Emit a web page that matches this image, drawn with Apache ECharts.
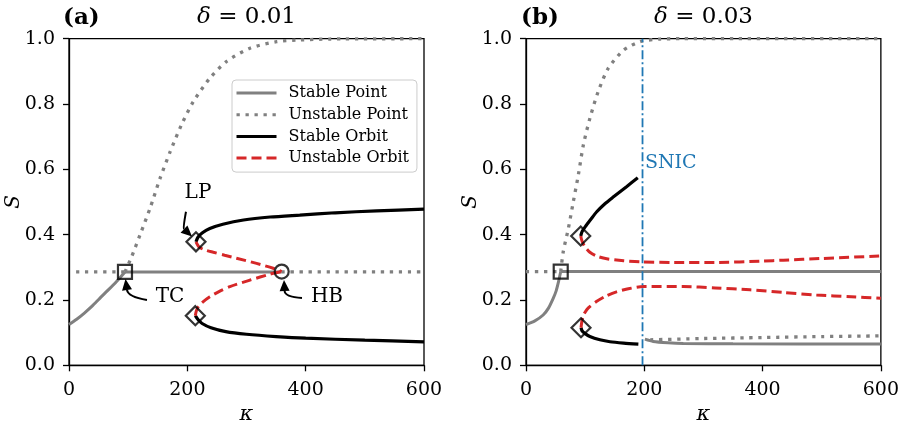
<!DOCTYPE html>
<html>
<head>
<meta charset="utf-8">
<script src="https://cdn.jsdelivr.net/npm/echarts@6/dist/echarts.min.js"></script>
<style>
html, body { margin: 0; padding: 0; background: #fff; }
#main { width: 902px; height: 430px; }
</style>
</head>
<body>
<div id="main"></div>
<script>
// ---- data, panel (a): delta = 0.01 ----
var aStablePtLow   = [[0,0.125],[13,0.141],[26,0.16],[39,0.181],[52,0.205],[66,0.23],[80,0.256],[94.6,0.286]];
var aStablePtFlat  = [[94.6,0.286],[359.5,0.286]];
var aUnstPtFlatL   = [[12,0.286],[94.6,0.286]];
var aUnstPtFlatR   = [[359.5,0.286],[600,0.286]];
var aUnstPtCurve   = [[94.6,0.286],[106,0.333],[120,0.399],[137,0.481],[154,0.573],[171,0.654],[190,0.736],[210,0.807],[238,0.879],[266,0.93],[306,0.971],[351,0.991],[390,0.996],[440,0.999],[600,1.0]];
var aStOrbUp       = [[214.6,0.378],[218,0.392],[225,0.405],[238,0.419],[260,0.432],[295,0.445],[340,0.454],[390,0.46],[450,0.467],[520,0.473],[600,0.478]];
var aStOrbLow      = [[213.5,0.152],[218,0.14],[225,0.128],[240,0.115],[265,0.103],[300,0.095],[350,0.088],[400,0.083],[500,0.077],[600,0.072]];
var aUnOrbUp       = [[214.6,0.378],[220,0.362],[230,0.353],[244,0.346],[263,0.337],[283,0.328],[317,0.312],[345,0.297],[359.5,0.287]];
var aUnOrbLow      = [[213.5,0.152],[215,0.165],[218,0.178],[225,0.192],[238,0.21],[255,0.227],[272,0.241],[306,0.261],[340,0.279],[359.5,0.287]];
var aLP = [[214.6,0.378],[213.5,0.152]];
var aTC = [[94.6,0.286]];
var aHB = [[359.5,0.287]];

// ---- data, panel (b): delta = 0.03 ----
var bStablePtLow   = [[0,0.125],[15,0.136],[29,0.154],[38,0.175],[46,0.205],[51,0.228],[55,0.256],[58.7,0.287]];
var bStablePtFlat  = [[58.7,0.287],[600,0.287]];
var bUnstPtFlat    = [[0,0.287],[58.7,0.287]];
var bUnstPtCurve   = [[58.7,0.287],[63,0.348],[71.6,0.419],[80,0.501],[88.5,0.583],[97,0.675],[108,0.756],[122,0.838],[139,0.909],[165,0.965],[193,0.991],[227,0.999],[260,1.0],[600,1.0]];
var bStablePtSnic  = [[201,0.08],[215,0.073],[240,0.069],[266,0.067],[350,0.066],[600,0.065]];
var bUnstPtSnic    = [[210,0.078],[300,0.082],[400,0.085],[500,0.088],[600,0.09]];
var bStOrbUp       = [[92.5,0.396],[95,0.41],[100,0.424],[110,0.448],[119.6,0.47],[133,0.494],[148,0.516],[170,0.547],[189,0.574]];
var bStOrbLow      = [[93,0.115],[95,0.105],[100,0.097],[108,0.088],[125,0.078],[142,0.072],[165,0.068],[190,0.065]];
var bUnOrbUp       = [[92.5,0.396],[95,0.379],[100,0.362],[108,0.346],[120,0.334],[136.5,0.326],[165,0.32],[193,0.317],[250,0.315],[322,0.315],[400,0.319],[435,0.322],[500,0.327],[600,0.335]];
var bUnOrbLow      = [[93,0.115],[95,0.14],[97,0.154],[105,0.175],[119,0.195],[135,0.212],[153,0.225],[175,0.235],[198,0.241],[266,0.241],[320,0.237],[379,0.231],[435,0.223],[491,0.215],[550,0.21],[600,0.205]];
var bLP = [[92.5,0.396],[93,0.115]];
var bTC = [[58.7,0.287]];
var snicK = 197;

var legendNames = ['Stable Point', 'Unstable Point', 'Stable Orbit', 'Unstable Orbit'];

var FONT = 'DejaVu Serif';
var GRAY = '#808080', RED = '#d62728', BLUE = '#1f77b4';

var styles = {
    'Stable Point':   { color: GRAY, width: 3 },
    'Unstable Point': { color: GRAY, width: 3.3, type: [3.3, 5.7], cap: 'butt' },
    'Stable Orbit':   { color: '#000', width: 3.2 },
    'Unstable Orbit': { color: RED, width: 3, type: [10, 5], cap: 'butt' }
};

function curve(name, idx, data, z) {
    var s = styles[name];
    return {
        type: 'line', name: name, xAxisIndex: idx, yAxisIndex: idx,
        data: data, symbol: 'none', showSymbol: false, smooth: 0.25,
        lineStyle: { color: s.color, width: s.width, type: s.type || 'solid', cap: s.cap || 'butt' },
        itemStyle: { color: s.color },
        z: z || 2, silent: true
    };
}

function marks(idx, data, symbol, size) {
    return {
        type: 'scatter', name: 'mark', xAxisIndex: idx, yAxisIndex: idx,
        data: data, symbol: symbol, symbolSize: size, z: 10, silent: true,
        itemStyle: { color: 'rgba(0,0,0,0)', borderColor: '#000', borderWidth: 2.2 }
    };
}

function xAx(idx) {
    return {
        type: 'value', gridIndex: idx, min: 0, max: 600, interval: 200,
        axisLine: { show: true, lineStyle: { color: '#000', width: 1.3 } },
        axisTick: { show: true, length: 6, lineStyle: { color: '#000', width: 1.3 } },
        axisLabel: { color: '#000', fontFamily: FONT, fontSize: 19, margin: 15 },
        splitLine: { show: false }
    };
}

function yAx(idx) {
    return {
        type: 'value', gridIndex: idx, min: 0, max: 1, interval: 0.2,
        axisLine: { show: true, lineStyle: { color: '#000', width: 1.3 } },
        axisTick: { show: true, length: 6, lineStyle: { color: '#000', width: 1.3 } },
        axisLabel: { color: '#000', fontFamily: FONT, fontSize: 19, margin: 14,
            formatter: function (v) { return v.toFixed(1); } },
        splitLine: { show: false }
    };
}

var chart = echarts.init(document.getElementById('main'));

var option = {
    animation: false,
    backgroundColor: '#fff',
    grid: [
        { left: 69, top: 38.7, width: 355, height: 326.6, show: true, borderColor: '#000', borderWidth: 1.3 },
        { left: 526, top: 38.7, width: 355, height: 326.6, show: true, borderColor: '#000', borderWidth: 1.3 }
    ],
    xAxis: [xAx(0), xAx(1)],
    yAxis: [yAx(0), yAx(1)],
    legend: {
        data: legendNames,
        orient: 'vertical',
        left: 232, top: 80,
        itemWidth: 40, itemHeight: 14, itemGap: 5.7,
        padding: [5, 8, 6, 3],
        borderColor: '#cccccc', borderWidth: 1, borderRadius: 4,
        backgroundColor: 'rgba(255,255,255,0.85)',
        selectedMode: false,
        itemStyle: { opacity: 0 },
        lineStyle: { width: 3 },
        textStyle: { fontFamily: FONT, fontSize: 16, color: '#000', lineHeight: 14, padding: [0, 0, 0, 7] }
    },
    series: [
        // panel (a)
        curve('Stable Point', 0, aStablePtLow),
        curve('Unstable Point', 0, aUnstPtFlatL),
        curve('Unstable Point', 0, aUnstPtCurve),
        curve('Unstable Point', 0, aUnstPtFlatR),
        curve('Stable Point', 0, aStablePtFlat),
        curve('Stable Orbit', 0, aStOrbUp, 3),
        curve('Stable Orbit', 0, aStOrbLow, 3),
        curve('Unstable Orbit', 0, aUnOrbUp, 4),
        curve('Unstable Orbit', 0, aUnOrbLow, 4),
        marks(0, aLP, 'diamond', 19),
        marks(0, aTC, 'rect', 14),
        marks(0, aHB, 'circle', 14),
        // panel (b)
        curve('Stable Point', 1, bStablePtLow),
        curve('Unstable Point', 1, bUnstPtFlat),
        curve('Unstable Point', 1, bUnstPtCurve),
        curve('Stable Point', 1, bStablePtFlat),
        curve('Stable Point', 1, bStablePtSnic),
        curve('Unstable Point', 1, bUnstPtSnic),
        curve('Stable Orbit', 1, bStOrbUp, 3),
        curve('Stable Orbit', 1, bStOrbLow, 3),
        curve('Unstable Orbit', 1, bUnOrbUp, 4),
        curve('Unstable Orbit', 1, bUnOrbLow, 4),
        {
            type: 'line', name: 'SNIC', xAxisIndex: 1, yAxisIndex: 1,
            data: [[snicK, 0], [snicK, 1]], symbol: 'none', z: 5, silent: true,
            lineStyle: { color: BLUE, width: 1.8, type: [9, 3, 2, 3], cap: 'butt' }
        },
        marks(1, bLP, 'diamond', 19),
        marks(1, bTC, 'rect', 14)
    ]
};
chart.setOption(option);

// annotations (data coordinates of panel a)
var notes = [
    { grid: 0, text: 'LP', at: [218, 0.528], from: [197.7, 0.470], ctrl: [192.7, 0.420], to: [207.9, 0.394] },
    { grid: 0, text: 'TC', at: [170.7, 0.209], from: [131.8, 0.200], ctrl: [99.7, 0.209], to: [95.5, 0.264] },
    { grid: 0, text: 'HB', at: [436, 0.209], from: [393.8, 0.206], ctrl: [365, 0.209], to: [363.4, 0.261] }
];

var g = [];
notes.forEach(function (n) {
    var p = chart.convertToPixel({ gridIndex: n.grid }, n.at);
    var a = chart.convertToPixel({ gridIndex: n.grid }, n.from);
    var c = chart.convertToPixel({ gridIndex: n.grid }, n.ctrl);
    var b = chart.convertToPixel({ gridIndex: n.grid }, n.to);
    g.push({ type: 'text', x: p[0], y: p[1], z: 20, silent: true,
        style: { text: n.text, font: '20px "' + FONT + '"', fill: '#000', align: 'center', verticalAlign: 'middle' } });
    var dx = b[0] - c[0], dy = b[1] - c[1];
    var len = Math.sqrt(dx * dx + dy * dy);
    var ux = dx / len, uy = dy / len;
    var hl = 11, hw = 5;
    var bx = b[0] - ux * hl, by = b[1] - uy * hl;
    g.push({ type: 'bezierCurve', z: 20, silent: true,
        shape: { x1: a[0], y1: a[1], x2: bx, y2: by, cpx1: c[0], cpy1: c[1] },
        style: { stroke: '#000', lineWidth: 2, fill: null } });
    g.push({ type: 'polygon', z: 20, silent: true,
        shape: { points: [[b[0], b[1]], [bx - uy * hw, by + ux * hw], [bx + uy * hw, by - ux * hw]] },
        style: { fill: '#000' } });
});

var sn = chart.convertToPixel({ gridIndex: 1 }, [snicK + 4, 0.619]);
g.push({ type: 'text', x: sn[0], y: sn[1], z: 20, silent: true,
    style: { text: 'SNIC', font: '19px "' + FONT + '"', fill: BLUE, align: 'left', verticalAlign: 'middle' } });

// titles and axis names
[['(a)', 63], ['(b)', 521]].forEach(function (t) {
    g.push({ type: 'text', x: t[1], y: 18, silent: true,
        style: { text: t[0], font: 'bold 23px "' + FONT + '"', fill: '#000', align: 'left', verticalAlign: 'middle' } });
});
[['0.01', 246.5], ['0.03', 703.5]].forEach(function (d) {
    g.push({ type: 'text', x: d[1], y: 17, silent: true,
        style: { text: '{i|δ} = ' + d[0], font: '23px "' + FONT + '"', fill: '#000', align: 'center', verticalAlign: 'middle',
            rich: { i: { fontStyle: 'italic', fontFamily: FONT, fontSize: 23 } } } });
});
[246.5, 703.5].forEach(function (x) {
    g.push({ type: 'text', x: x, y: 415, silent: true,
        style: { text: 'κ', font: 'italic 21px "' + FONT + '"', fill: '#000', align: 'center', verticalAlign: 'middle' } });
});
[14, 471].forEach(function (x) {
    g.push({ type: 'text', x: x, y: 202, rotation: Math.PI / 2, silent: true,
        style: { text: 'S', font: 'italic 20px "' + FONT + '"', fill: '#000', align: 'center', verticalAlign: 'middle' } });
});

chart.setOption({ graphic: g });
</script>
</body>
</html>
